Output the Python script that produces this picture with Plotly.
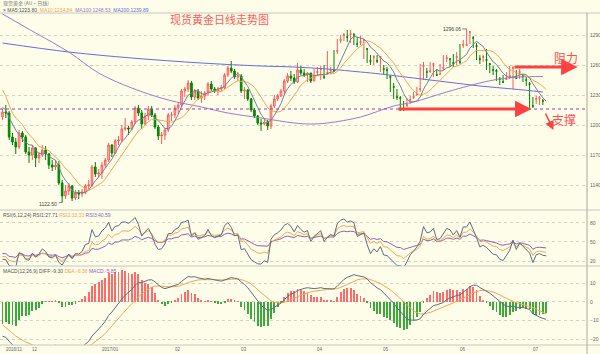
import numpy as np
import pandas as pd
import plotly.graph_objects as go

# ---------------- data ----------------
# warm-up closes before the first visible candle (for MA / RSI / MACD)
prior_closes = [1312, 1323, 1326, 1349, 1345, 1340, 1334, 1328, 1323, 1319, 1326, 1314, 1310, 1318, 1335, 1336, 1337,
                1338, 1326, 1322, 1317, 1316,
                1313, 1269, 1267, 1253, 1257, 1259, 1253, 1254, 1257, 1252, 1259, 1262, 1270, 1265, 1267, 1264,
                1273, 1267, 1268, 1276, 1277,
                1289, 1297, 1303, 1304, 1281, 1275, 1274, 1266, 1225, 1222, 1225, 1226, 1216, 1208]

opens = [1208, 1213, 1212, 1188, 1183, 1178, 1192, 1188,
         1173, 1170, 1177, 1167, 1170, 1175, 1171, 1160, 1158, 1160, 1142, 1129, 1134, 1139, 1127, 1132, 1131, 1133, 1139, 1140, 1158,
         1151, 1152, 1160, 1165, 1180, 1172, 1184, 1185, 1196, 1197, 1196, 1203, 1217, 1212, 1201, 1209, 1216, 1210, 1198, 1189, 1190, 1195,
         1210, 1210, 1217, 1220, 1234, 1236, 1242, 1228, 1234, 1227, 1229, 1232, 1241, 1236, 1234, 1236, 1237, 1250, 1257, 1254,
         1248, 1249, 1234, 1235, 1226, 1215, 1209, 1202, 1201, 1203, 1199, 1219, 1226, 1229, 1234, 1244, 1249, 1247, 1243, 1255, 1252, 1250, 1252,
         1244, 1253, 1256, 1248, 1252, 1255, 1254, 1274, 1285, 1290, 1288, 1291, 1290, 1281, 1283, 1285, 1276, 1264, 1268, 1264,
         1268, 1256, 1255, 1248, 1238, 1228, 1227, 1216, 1220, 1225, 1228, 1231, 1236, 1259, 1253, 1254, 1261, 1250, 1251, 1257, 1267, 1266, 1262,
         1268, 1263, 1280, 1280, 1293, 1287, 1279, 1266, 1268, 1265, 1261, 1255, 1254, 1246, 1243, 1246, 1249, 1257, 1247, 1253, 1249, 1245,
         1241, 1219, 1226, 1227, 1224]
highs = [1216, 1220, 1214, 1192, 1187, 1195, 1194, 1190,
         1178, 1180, 1178, 1173, 1180, 1179, 1172, 1165, 1165, 1164, 1145, 1140, 1142, 1140, 1135, 1135, 1136, 1141, 1145, 1160, 1163,
         1156, 1163, 1167, 1182, 1181, 1186, 1189, 1200, 1207, 1199, 1205, 1219, 1220, 1215, 1212, 1219, 1219, 1212, 1200, 1193, 1197, 1212,
         1213, 1220, 1223, 1236, 1238, 1245, 1244, 1236, 1236, 1234, 1234, 1243, 1244, 1238, 1238, 1240, 1252, 1259, 1264, 1256,
         1253, 1251, 1238, 1236, 1227, 1217, 1210, 1206, 1206, 1205, 1221, 1230, 1231, 1236, 1246, 1252, 1254, 1251, 1262, 1259, 1256, 1253, 1252,
         1256, 1258, 1259, 1260, 1274, 1258, 1275, 1286, 1290, 1292, 1295, 1295, 1292, 1288, 1289, 1286, 1277, 1270, 1270, 1270,
         1269, 1260, 1258, 1250, 1242, 1236, 1229, 1224, 1227, 1229, 1233, 1238, 1261, 1263, 1257, 1263, 1262, 1256, 1261, 1270, 1270, 1266, 1271,
         1273, 1281, 1285, 1296.06, 1294, 1289, 1282, 1270, 1270, 1276, 1262, 1259, 1256, 1248, 1250, 1253, 1259, 1259, 1255, 1256, 1251, 1248,
         1243, 1228, 1229, 1229, 1226]
lows = [1205, 1207, 1185, 1180, 1171, 1176, 1183, 1171,
        1162, 1165, 1158, 1162, 1168, 1165, 1156, 1154, 1155, 1140, 1122.5, 1126, 1130, 1124, 1125, 1126, 1128, 1131, 1136, 1138, 1148,
        1148, 1146, 1157, 1163, 1168, 1171, 1180, 1183, 1194, 1190, 1195, 1201, 1209, 1196, 1200, 1205, 1208, 1196, 1185, 1181, 1185, 1193,
        1204, 1207, 1211, 1218, 1228, 1233, 1225, 1225, 1225, 1222, 1225, 1229, 1234, 1232, 1230, 1233, 1236, 1248, 1252, 1246,
        1244, 1232, 1226, 1224, 1213, 1207, 1200, 1194, 1200, 1195, 1196, 1217, 1224, 1228, 1230, 1242, 1244, 1241, 1242, 1250, 1248, 1243, 1242,
        1244, 1249, 1245, 1246, 1250, 1251, 1253, 1271, 1282, 1284, 1283, 1282, 1280, 1278, 1280, 1266, 1262, 1260, 1260, 1262,
        1253, 1251, 1246, 1233, 1226, 1225, 1214, 1214, 1218, 1221, 1226, 1229, 1233, 1245, 1247, 1252, 1248, 1249, 1250, 1255, 1263, 1258, 1258,
        1260, 1261, 1277, 1279, 1281, 1277, 1265, 1261, 1263, 1255, 1252, 1250, 1244, 1240, 1242, 1245, 1246, 1236, 1246, 1246, 1243, 1239,
        1217, 1217, 1221, 1220, 1220]
closes = [1213, 1212, 1188, 1183, 1178, 1192, 1188, 1173,
          1170, 1177, 1167, 1170, 1175, 1171, 1160, 1158, 1160, 1142, 1129, 1134, 1139, 1127, 1132, 1131, 1133, 1139, 1140, 1158, 1151,
          1152, 1160, 1165, 1180, 1172, 1184, 1185, 1196, 1197, 1196, 1203, 1217, 1212, 1201, 1209, 1216, 1210, 1198, 1189, 1190, 1195, 1210,
          1210, 1217, 1220, 1234, 1236, 1242, 1228, 1234, 1227, 1229, 1232, 1241, 1236, 1234, 1236, 1237, 1250, 1257, 1254, 1248,
          1249, 1234, 1235, 1226, 1215, 1209, 1202, 1201, 1203, 1199, 1219, 1226, 1229, 1234, 1244, 1249, 1247, 1243, 1255, 1252, 1250, 1252, 1244,
          1249, 1253, 1256, 1248, 1252, 1255, 1254, 1274, 1285, 1290, 1288, 1291, 1290, 1281, 1283, 1285, 1276, 1264, 1268, 1264, 1268,
          1256, 1255, 1248, 1238, 1228, 1227, 1216, 1220, 1225, 1228, 1231, 1236, 1259, 1253, 1254, 1261, 1250, 1251, 1257, 1267, 1266, 1262, 1268,
          1263, 1280, 1280, 1293, 1287, 1279, 1266, 1268, 1265, 1261, 1255, 1254, 1246, 1243, 1246, 1249, 1257, 1247, 1253, 1249, 1245, 1241,
          1219, 1226, 1227, 1224, 1223]

# long moving averages (candle index, value)
ma100_idx = [0, 10, 20, 29, 39, 50, 60, 68, 78, 88, 93, 98, 108, 118, 124, 134, 144, 150, 156, 163]
ma100_val = [1311, 1292, 1273, 1252, 1237, 1225, 1218, 1212, 1207, 1202, 1201, 1202, 1208, 1219, 1223, 1233, 1242, 1246, 1248, 1248.5]
ma200_idx = [0, 20, 39, 60, 78, 88, 98, 108, 114, 124, 134, 144, 154, 163]
ma200_val = [1282, 1273, 1267, 1262, 1259, 1258, 1256, 1253, 1251, 1247, 1243, 1239, 1236, 1233]

month_idx = [0, 8, 29, 51, 71, 94, 114, 137, 159]
month_lbl = ["2016/11", "12", "2017/01", "02", "03", "04", "05", "06", "07"]
price_ticks = [1140, 1170, 1200, 1230, 1260, 1290]
rsi_ticks = [20, 50, 80]
macd_ticks = [-20, -10, 0, 10]

support_level = 1216
resistance_level = 1258
high_idx, high_val = 140, 1296.06
low_idx, low_val = 18, 1122.50

# ---------------- indicators ----------------
allc = np.array(prior_closes + closes, dtype=float)
n0 = len(prior_closes)
idx = np.arange(len(closes))


def ema(x, n):
    out = np.empty_like(x)
    a = 2.0 / (n + 1)
    out[0] = x[0]
    for i in range(1, len(x)):
        out[i] = a * x[i] + (1 - a) * out[i - 1]
    return out


def sma_cn(x, n):
    out = np.empty_like(x)
    out[0] = x[0]
    for i in range(1, len(x)):
        out[i] = (x[i] + (n - 1) * out[i - 1]) / n
    return out


dif_all = ema(allc, 12) - ema(allc, 26)
dea_all = ema(dif_all, 9)
macd_all = 2 * (dif_all - dea_all)
dif, dea, macd = dif_all[n0:], dea_all[n0:], macd_all[n0:]

d = np.diff(allc, prepend=allc[0])


def rsi(n):
    return (sma_cn(np.maximum(d, 0), n) / np.maximum(sma_cn(np.abs(d), n), 1e-9) * 100)[n0:]


rsi6, rsi12, rsi24 = rsi(6), rsi(12), rsi(24)
s = pd.Series(allc)
ma5 = s.rolling(5).mean().values[n0:]
ma10 = s.rolling(10).mean().values[n0:]

# ---------------- figure ----------------
bg = "#fdfde9"
C_MA5 = "#738196"
C_MA10 = "#f4a650"
C_MA100 = "#9a7cc8"
C_MA200 = "#6a6ae0"
C_RED = "#ff4040"
small = dict(family="Liberation Sans", size=5, color="#666")

fig = go.Figure()
fig.add_trace(go.Candlestick(
    x=idx, open=opens, high=highs, low=lows, close=closes, xaxis="x", yaxis="y",
    increasing=dict(line=dict(color="#ff5a5a", width=1), fillcolor="#ffc8c8"),
    decreasing=dict(line=dict(color="#008400", width=1), fillcolor="#009400"),
    whiskerwidth=0, hoverinfo="skip"))
fig.add_trace(go.Scatter(x=ma200_idx, y=ma200_val, mode="lines", line=dict(color=C_MA200, width=1, shape="spline"), yaxis="y"))
fig.add_trace(go.Scatter(x=ma100_idx, y=ma100_val, mode="lines", line=dict(color=C_MA100, width=1, shape="spline"), yaxis="y"))
fig.add_trace(go.Scatter(x=idx, y=ma10, mode="lines", line=dict(color=C_MA10, width=1), yaxis="y"))
fig.add_trace(go.Scatter(x=idx, y=ma5, mode="lines", line=dict(color=C_MA5, width=1), yaxis="y"))

fig.add_trace(go.Scatter(x=idx, y=rsi24, mode="lines", line=dict(color="#8a64b8", width=1), yaxis="y2"))
fig.add_trace(go.Scatter(x=idx, y=rsi12, mode="lines", line=dict(color="#f4a650", width=1), yaxis="y2"))
fig.add_trace(go.Scatter(x=idx, y=rsi6, mode="lines", line=dict(color="#5d6d82", width=1), yaxis="y2"))

bar_colors = ["#ff6a6a" if v >= 0 else "#3aaa3a" for v in macd]
fig.add_trace(go.Bar(x=idx, y=macd, marker=dict(color=bar_colors, line=dict(width=0)), width=0.26, yaxis="y3"))
fig.add_trace(go.Scatter(x=idx, y=dea, mode="lines", line=dict(color="#f4a650", width=1), yaxis="y3"))
fig.add_trace(go.Scatter(x=idx, y=dif, mode="lines", line=dict(color="#5d6d82", width=1), yaxis="y3"))

H = 354.0
def py(px):
    return 1 - px / H

XR = [-0.754, 176.32]
XD = 587 / 600
axis_common = dict(side="right", anchor="x", ticks="", showline=False, zeroline=False,
                   showgrid=True, gridcolor="#d4d4c4", griddash="dot", gridwidth=1,
                   tickfont=small, ticklabelstandoff=2)
fig.update_layout(
    width=600, height=354, margin=dict(l=0, r=0, t=0, b=0),
    paper_bgcolor=bg, plot_bgcolor=bg, showlegend=False, bargap=0,
    xaxis=dict(domain=[0, XD], range=XR, anchor="y3", showticklabels=False, showgrid=False,
               zeroline=False, rangeslider=dict(visible=False), showline=False, ticks=""),
    yaxis=dict(domain=[py(210), py(13)], range=[1115, 1312], tickvals=price_ticks, **axis_common),
    yaxis2=dict(domain=[py(266), py(210)], range=[12.1, 100.5], tickvals=rsi_ticks, **axis_common),
    yaxis3=dict(domain=[py(345), py(266)], range=[-23, 19.25], tickvals=macd_ticks, **axis_common),
)

shapes = []
for yy in [13, 210, 266, 345]:
    shapes.append(dict(type="line", xref="paper", yref="paper", x0=0, x1=1, y0=py(yy), y1=py(yy),
                       line=dict(color="#c8c8bc", width=1)))
shapes.append(dict(type="line", xref="paper", yref="paper", x0=XD, x1=XD, y0=py(354), y1=py(13),
                   line=dict(color="#a8a8a0", width=1)))
shapes.append(dict(type="line", xref="x", yref="y", x0=XR[0], x1=XR[1], y0=support_level, y1=support_level,
                   line=dict(color="#a03ca8", width=1, dash="dot")))
fig.update_layout(shapes=shapes)

ann = []
ann.append(dict(xref="paper", yref="paper", x=0.002, y=py(3), xanchor="left", yanchor="middle", showarrow=False,
                text="现货黄金 (AU·日线)", font=dict(family="Noto Sans CJK SC", size=5, color="#777")))
ann.append(dict(xref="paper", yref="paper", x=0.002, y=py(9.5), xanchor="left", yanchor="middle", showarrow=False,
                text=(f"<span style='color:#555'>× MA5:1223.80</span>  <span style='color:{C_MA10}'>MA10:1234.84</span>  "
                      f"<span style='color:{C_MA100}'>MA100:1248.53</span>  <span style='color:{C_MA200}'>MA200:1239.89</span>"),
                font=dict(family="Liberation Sans", size=5)))
ann.append(dict(xref="paper", yref="paper", x=0.002, y=py(215), xanchor="left", yanchor="middle", showarrow=False,
                text=("<span style='color:#555'>RSI(6,12,24) RSI1:27.71</span> <span style='color:#f4a650'>RSI2:33.33</span> "
                      "<span style='color:#8a64b8'>RSI3:40.59</span>"), font=dict(family="Liberation Sans", size=5)))
ann.append(dict(xref="paper", yref="paper", x=0.002, y=py(270.5), xanchor="left", yanchor="middle", showarrow=False,
                text=("<span style='color:#555'>MACD(12,26,9) DIFF:-9.30</span> <span style='color:#f4a650'>DEA:-6.38</span> "
                      "<span style='color:#8a64b8'>MACD:-5.85</span>"), font=dict(family="Liberation Sans", size=5)))
ann.append(dict(xref="paper", yref="paper", x=220 / 600, y=py(19), xanchor="center", yanchor="middle", showarrow=False,
                text="现货黄金日线走势图", font=dict(family="Noto Sans CJK SC", size=11, color="#ff5c5c")))
for mi, ml in zip(month_idx, month_lbl):
    ann.append(dict(xref="x", yref="paper", x=mi, y=py(349.5), xanchor="left", yanchor="middle", xshift=1,
                    showarrow=False, text=ml, font=dict(family="Liberation Sans", size=4.5, color="#666")))
ann.append(dict(xref="x", yref="y", x=high_idx, y=high_val, ax=-15, ay=0, text=f"{high_val:.2f}", showarrow=True,
                arrowhead=0, arrowwidth=0.8, arrowcolor="#666", font=dict(family="Liberation Sans", size=5, color="#444")))
ann.append(dict(xref="x", yref="y", x=low_idx, y=low_val, ax=-14, ay=1, text=f"{low_val:.2f}", showarrow=True,
                arrowhead=0, arrowwidth=0.8, arrowcolor="#666", font=dict(family="Liberation Sans", size=5, color="#444")))
# resistance arrow + label
ann.append(dict(xref="x", yref="y", axref="x", ayref="y", x=173.5, y=resistance_level, ax=154, ay=resistance_level,
                text="", showarrow=True, arrowhead=2, arrowsize=1.1, arrowwidth=3, arrowcolor=C_RED))
ann.append(dict(xref="paper", yref="paper", x=566 / 600, y=py(57), xanchor="center", yanchor="middle", showarrow=False,
                text="阻力", font=dict(family="Noto Sans CJK SC", size=12, color="#ff5050")))
# support arrow + label
ann.append(dict(xref="x", yref="y", axref="x", ayref="y", x=159.6, y=support_level, ax=119, ay=support_level,
                text="", showarrow=True, arrowhead=2, arrowsize=1.1, arrowwidth=3, arrowcolor=C_RED))
ann.append(dict(xref="x", yref="y", axref="x", ayref="y", x=166.2, y=1195, ax=163.6, ay=1213,
                text="", showarrow=True, arrowhead=2, arrowsize=1.2, arrowwidth=1.5, arrowcolor=C_RED))
ann.append(dict(xref="paper", yref="paper", x=564 / 600, y=py(119), xanchor="center", yanchor="middle", showarrow=False,
                text="支撑", font=dict(family="Noto Sans CJK SC", size=12, color="#ff5050")))
fig.update_layout(annotations=ann)

fig.write_html("out.html")
